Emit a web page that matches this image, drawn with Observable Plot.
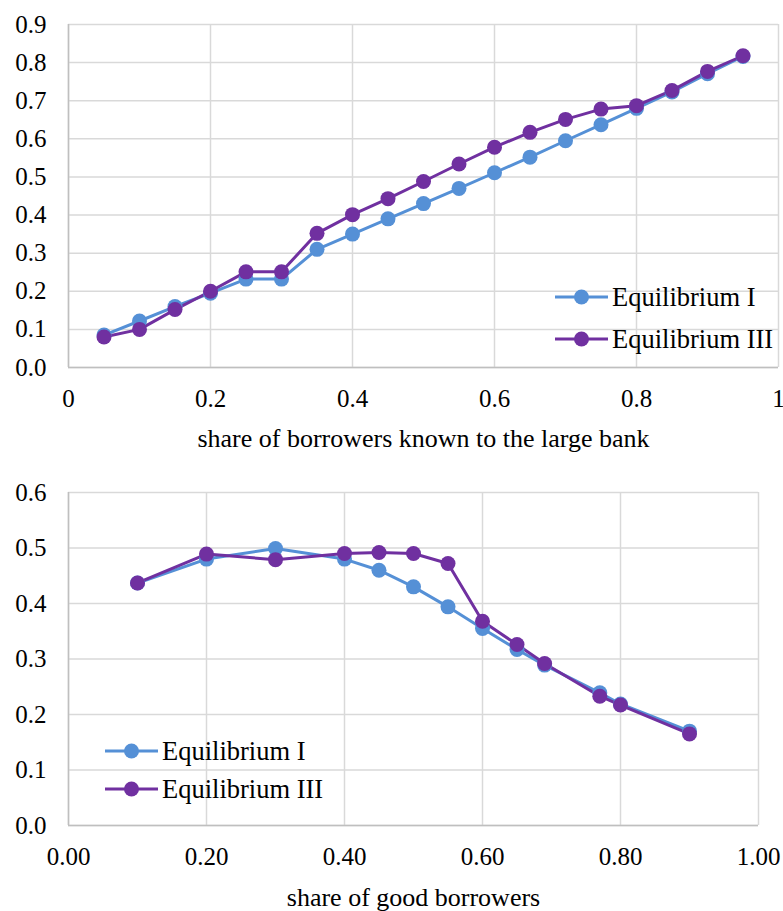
<!DOCTYPE html>
<html>
<head>
<meta charset="utf-8">
<script src="https://cdn.jsdelivr.net/npm/d3@7"></script>
<script src="https://cdn.jsdelivr.net/npm/@observablehq/plot@0.6"></script>
<style>
  html, body { margin: 0; padding: 0; background: white; }
  #wrap { position: relative; width: 783px; height: 911px; font-family: "Liberation Serif", serif; }
  .chart { position: absolute; left: 0; }
  .legend { position: absolute; font-family: "Liberation Serif", serif; font-size: 26.5px; color: #000; line-height: 1; }
  .legend .row { display: flex; align-items: center; white-space: nowrap; }
  .legend svg { margin-right: 4px; }
</style>
</head>
<body>
<div id="wrap"></div>
<script>
// ---------- Data ----------
const seriesNames = ["Equilibrium I", "Equilibrium III"];
const seriesColors = ["#5590D6", "#7030A0"];

// Top chart: share of borrowers known to the large bank
const topX   = [0.05, 0.10, 0.15, 0.20, 0.25, 0.30, 0.35, 0.40, 0.45, 0.50, 0.55, 0.60, 0.65, 0.70, 0.75, 0.80, 0.85, 0.90, 0.95];
const topEq1 = [0.085, 0.122, 0.160, 0.195, 0.232, 0.232, 0.310, 0.350, 0.390, 0.430, 0.470, 0.511, 0.552, 0.595, 0.637, 0.680, 0.723, 0.771, 0.816];
const topEq3 = [0.080, 0.100, 0.152, 0.200, 0.251, 0.251, 0.352, 0.401, 0.443, 0.488, 0.534, 0.578, 0.617, 0.651, 0.678, 0.687, 0.727, 0.777, 0.818];
const topXTicks = [0, 0.2, 0.4, 0.6, 0.8, 1];
const topYTicks = [0, 0.1, 0.2, 0.3, 0.4, 0.5, 0.6, 0.7, 0.8, 0.9];
const topXLabel = "share of borrowers known to the large bank";

// Bottom chart: share of good borrowers
const botX   = [0.10, 0.20, 0.30, 0.40, 0.45, 0.50, 0.55, 0.60, 0.65, 0.69, 0.77, 0.80, 0.90];
const botEq1 = [0.437, 0.480, 0.499, 0.480, 0.460, 0.430, 0.394, 0.355, 0.317, 0.289, 0.239, 0.219, 0.170];
const botEq3 = [0.437, 0.489, 0.479, 0.490, 0.492, 0.490, 0.472, 0.368, 0.326, 0.292, 0.233, 0.217, 0.165];
const botXTicks = [0, 0.2, 0.4, 0.6, 0.8, 1.0];
const botYTicks = [0, 0.1, 0.2, 0.3, 0.4, 0.5, 0.6];
const botXLabel = "share of good borrowers";

// ---------- Helpers ----------
const SERIF = "Liberation Serif, serif";

function toRows(xs, ys1, ys3) {
  const rows = [];
  xs.forEach((x, i) => rows.push({x, y: ys1[i], s: seriesNames[0]}));
  xs.forEach((x, i) => rows.push({x, y: ys3[i], s: seriesNames[1]}));
  return rows;
}

function makeChart({rows, xTicks, yTicks, xDomain, yDomain, xFmt, yFmt, xLabel, height, mt, mb, ml, mr, labelDy}) {
  const fr = {stroke: "#BFBFBF", strokeWidth: 1.5};
  const tickText = {tickSize: 0, tickPadding: 22, label: null, fill: "#000", fontFamily: SERIF, fontSize: 25, fontVariant: "normal"};
  return Plot.plot({
    width: 783, height,
    marginTop: mt, marginBottom: mb, marginLeft: ml, marginRight: mr,
    style: {fontFamily: SERIF, fontSize: "25px", color: "#000", background: "white", overflow: "visible"},
    x: {domain: xDomain},
    y: {domain: yDomain},
    color: {domain: seriesNames, range: seriesColors},
    marks: [
      Plot.gridX(xTicks, {stroke: "#D9D9D9", strokeOpacity: 1, strokeWidth: 1.5}),
      Plot.gridY(yTicks, {stroke: "#D9D9D9", strokeOpacity: 1, strokeWidth: 1.5}),
      Plot.ruleX([xDomain[0]], fr),
      Plot.ruleY([yDomain[0]], fr),
      Plot.axisX(xTicks, {...tickText, tickFormat: xFmt}),
      Plot.axisY(yTicks, {...tickText, tickFormat: yFmt}),
      Plot.text([xLabel], {frameAnchor: "bottom", dy: labelDy, fontSize: 26, fontFamily: SERIF, fill: "#000", lineAnchor: "bottom"}),
      Plot.line(rows, {x: "x", y: "y", stroke: "s", z: "s", strokeWidth: 3, curve: "linear"}),
      Plot.dot(rows, {x: "x", y: "y", fill: "s", r: 7.5, stroke: "none"})
    ]
  });
}

function makeLegend(left, topPx, rowH) {
  const div = document.createElement("div");
  div.className = "legend";
  div.style.left = left + "px";
  div.style.top = topPx + "px";
  seriesNames.forEach((name, i) => {
    const row = document.createElement("div");
    row.className = "row";
    row.style.height = rowH + "px";
    row.innerHTML = `<svg width="53" height="20"><line x1="0" x2="53" y1="10" y2="10" stroke="${seriesColors[i]}" stroke-width="3"/><circle cx="26.5" cy="10" r="7.5" fill="${seriesColors[i]}"/></svg><span>${name}</span>`;
    div.appendChild(row);
  });
  return div;
}

// ---------- Render ----------
const wrap = document.getElementById("wrap");

const chartTop = makeChart({
  rows: toRows(topX, topEq1, topEq3),
  xTicks: topXTicks, yTicks: topYTicks,
  xDomain: [0, 1], yDomain: [0, 0.9],
  xFmt: d => d === 0 ? "0" : d === 1 ? "1" : d.toFixed(1),
  yFmt: d => d.toFixed(1),
  xLabel: topXLabel,
  height: 460, mt: 24, mb: 93, ml: 68, mr: 5, labelDy: 79
});
chartTop.classList.add("chart");
chartTop.style.top = "0px";
wrap.appendChild(chartTop);

const chartBot = makeChart({
  rows: toRows(botX, botEq1, botEq3),
  xTicks: botXTicks, yTicks: botYTicks,
  xDomain: [0, 1], yDomain: [0, 0.6],
  xFmt: d => d.toFixed(2),
  yFmt: d => d.toFixed(1),
  xLabel: botXLabel,
  height: 451, mt: 32, mb: 86, ml: 68, mr: 25, labelDy: 80
});
chartBot.classList.add("chart");
chartBot.style.top = "460px";
wrap.appendChild(chartBot);

wrap.appendChild(makeLegend(555, 276, 42));
wrap.appendChild(makeLegend(105, 732, 38));
</script>
</body>
</html>
